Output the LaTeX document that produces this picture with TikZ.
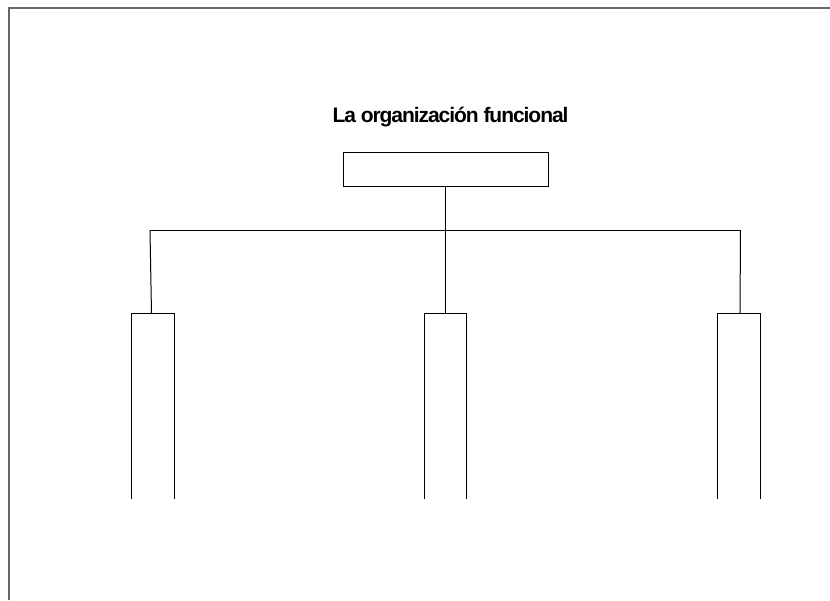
\documentclass[tikz,border=0pt]{standalone}
\usepackage{fontspec}
\setmainfont{Liberation Sans}
\newfontfamily\titlefont[LetterSpace=-5]{Liberation Sans}
\usetikzlibrary{positioning,calc}

\begin{document}
\begin{tikzpicture}[x=1pt, y=-1pt,
	line/.style={line width=1pt},
	box/.style={draw, line, minimum width=205pt, minimum height=34pt, inner sep=0pt},
	column/.style={minimum width=42pt, minimum height=185pt, inner sep=0pt}]
	\useasboundingbox (0,0) rectangle (830,600);
	% page frame
	\draw[line width=1.6pt, black!60] (9,600) -- (9,8) -- (830,8);

	\node[anchor=base, font=\titlefont\bfseries\fontsize{21}{25}\selectfont] (title) at (450.5,122) {La organización funcional};
	\node[box] (head) at (445.5,169) {};

	\node[column] (left) at (153,406.5) {};
	\node[column, minimum width=41pt] (mid) at (445.5,406.5) {};
	\node[column] (right) at (739,406.5) {};

	\coordinate (busL) at (150,230);
	\coordinate (busR) at (740.5,230);

	\draw[line] (head.south) -- (head.south |- busL);
	\draw[line] (busL) -- (busR);
	\draw[line] (busL) -- ([xshift=-1.5pt]left.north);
	\draw[line] (head.south |- busL) -- (mid.north);
	\draw[line] (busR) -- ([xshift=1pt]right.north);

	\foreach \c in {left,mid,right}
		\draw[line] (\c.south west) -- (\c.north west) -- (\c.north east) -- (\c.south east);
\end{tikzpicture}
\end{document}
